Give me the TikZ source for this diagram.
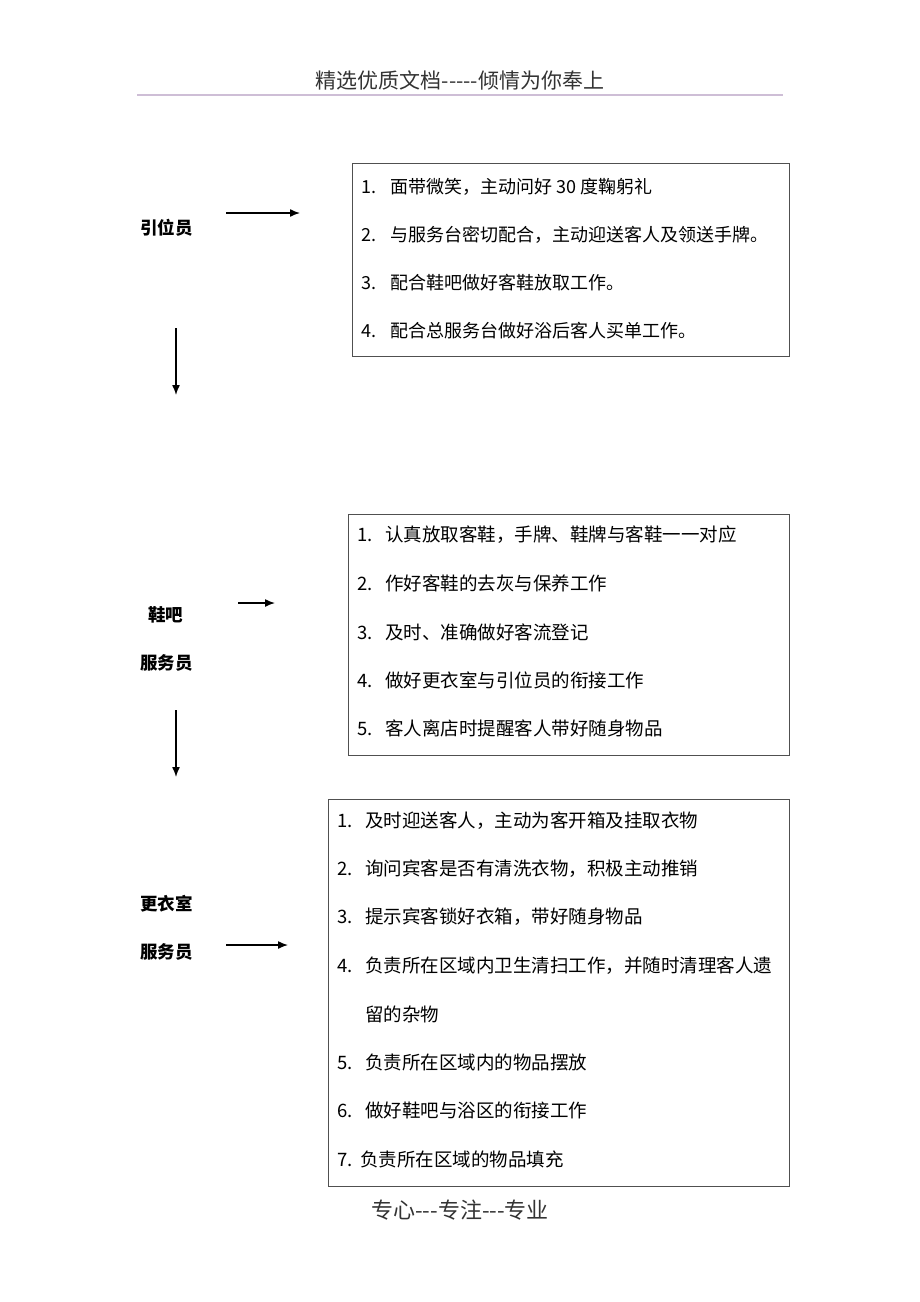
\documentclass[tikz,border=0pt]{standalone}
\usepackage{fontspec}
\usetikzlibrary{arrows.meta}
\setmainfont{Liberation Sans}
\newfontfamily\cjk{Noto Sans CJK SC}
\definecolor{rulegray}{RGB}{206,190,214}
\definecolor{framegray}{RGB}{80,80,80}
\newcommand{\itm}[2]{\makebox[#1][l]{#2}}
\begin{document}
\begin{tikzpicture}[x=1pt,y=-1pt]
    \tikzset{
        role/.style={anchor=west,inner sep=0,font=\cjk\bfseries\fontsize{17.5}{17.5}\selectfont},
        duty/.style={anchor=west,inner sep=0,font=\cjk\fontsize{18}{18}\selectfont},
        dutysm/.style={anchor=west,inner sep=0,font=\cjk\fontsize{18.5}{18.5}\selectfont},
        panel/.style={draw=framegray,line width=1pt,anchor=north west,inner sep=0},
        flow/.style={-{Latex[length=10pt,width=8pt]},line width=1.4pt},
    }
    \useasboundingbox (0,0) rectangle (920,1302);

    % header and footer
    \node[font=\cjk\fontsize{21}{21}\selectfont,text=black!80] (head) at (460,80) {精选优质文档-----倾情为你奉上};
    \draw[rulegray,line width=1.3pt] (137,95) -- (783,95);
    \node[font=\cjk\fontsize{22}{22}\selectfont,text=black!80] (foot) at (460,1210) {专心---专注---专业};

    % roles
    \node[role] (R1) at (140,228) {引位员};
    \node[role] (R2a) at (148,615) {鞋吧};
    \node[role] (R2b) at (140,663) {服务员};
    \node[role] (R3a) at (140,904) {更衣室};
    \node[role] (R3b) at (140,952) {服务员};

    % panels
    \node[panel,minimum width=437,minimum height=193] (P1) at (352,163) {};
    \node[panel,minimum width=441,minimum height=241] (P2) at (348,514) {};
    \node[panel,minimum width=461,minimum height=387] (P3) at (328,799) {};

    \node[duty] (P1a) at (361,187) {\itm{29pt}{1.}面带微笑，主动问好 30 度鞠躬礼};
    \node[duty] (P1b) at (361,235) {\itm{29pt}{2.}与服务台密切配合，主动迎送客人及领送手牌。};
    \node[duty] (P1c) at (361,283) {\itm{29pt}{3.}配合鞋吧做好客鞋放取工作。};
    \node[duty] (P1d) at (361,331) {\itm{29pt}{4.}配合总服务台做好浴后客人买单工作。};

    \node[dutysm] (P2a) at (357,535) {\itm{28pt}{1.}认真放取客鞋，手牌、鞋牌与客鞋一一对应};
    \node[dutysm] (P2b) at (357,583) {\itm{28pt}{2.}作好客鞋的去灰与保养工作};
    \node[dutysm] (P2c) at (357,632) {\itm{28pt}{3.}及时、准确做好客流登记};
    \node[dutysm] (P2d) at (357,680) {\itm{28pt}{4.}做好更衣室与引位员的衔接工作};
    \node[dutysm] (P2e) at (357,728) {\itm{28pt}{5.}客人离店时提醒客人带好随身物品};

    \node[dutysm] (P3a) at (337,821) {\itm{28pt}{1.}及时迎送客人，主动为客开箱及挂取衣物};
    \node[dutysm] (P3b) at (337,869) {\itm{28pt}{2.}询问宾客是否有清洗衣物，积极主动推销};
    \node[dutysm] (P3c) at (337,917) {\itm{28pt}{3.}提示宾客锁好衣箱，带好随身物品};
    \node[dutysm] (P3d) at (337,966) {\itm{28pt}{4.}负责所在区域内卫生清扫工作，并随时清理客人遗};
    \node[dutysm] (P3e) at (365,1014) {留的杂物};
    \node[dutysm] (P3f) at (337,1062) {\itm{28pt}{5.}负责所在区域内的物品摆放};
    \node[dutysm] (P3g) at (337,1110) {\itm{28pt}{6.}做好鞋吧与浴区的衔接工作};
    \node[dutysm] (P3h) at (337,1159) {\itm{23pt}{7.}负责所在区域的物品填充};

    % arrows
    \coordinate (A1s) at (226,213);
    \coordinate (A1e) at (300,213);
    \coordinate (A2s) at (238,603);
    \coordinate (A2e) at (275,603);
    \coordinate (A3s) at (226,945);
    \coordinate (A3e) at (288,945);
    \coordinate (D1s) at (176,328);
    \coordinate (D1e) at (176,395);
    \coordinate (D2s) at (176,710);
    \coordinate (D2e) at (176,777);

    \draw[flow] (A1s) -- (A1e);
    \draw[flow] (A2s) -- (A2e);
    \draw[flow] (A3s) -- (A3e);
    \draw[flow] (D1s) -- (D1e);
    \draw[flow] (D2s) -- (D2e);
\end{tikzpicture}
\end{document}
